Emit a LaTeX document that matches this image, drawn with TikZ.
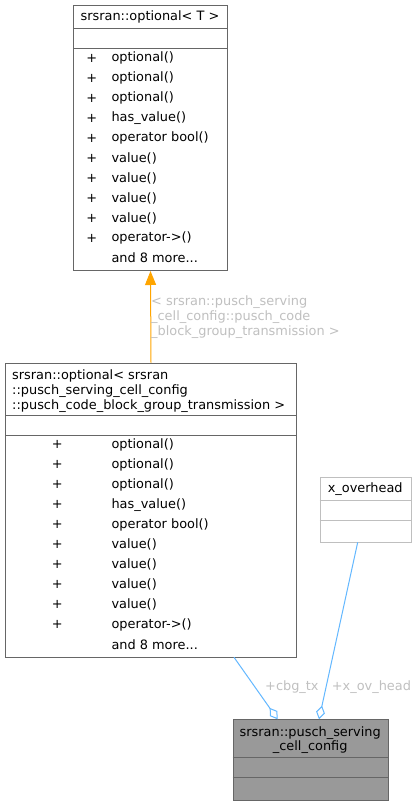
\documentclass[tikz,border=0pt]{standalone}
\usepackage{fontspec}
\setmainfont{DejaVu Sans}
\usetikzlibrary{arrows.meta}
\definecolor{edgeblue}{HTML}{63B8FF}
\definecolor{boxgray}{HTML}{666666}
\definecolor{lblgray}{HTML}{C0C0C0}
\definecolor{lightborder}{HTML}{BFBFBF}
\definecolor{fillgray}{HTML}{999999}
\definecolor{arroworange}{HTML}{FFA500}
\tikzset{
  classbox/.style={draw=boxgray, line width=1pt, fill=white, inner sep=0pt, anchor=north west},
  sepline/.style={draw=boxgray, line width=1pt},
  txt/.style={inner sep=0pt, font=\fontsize{12.9}{15}\selectfont},
  lbl/.style={txt, text=lblgray},
  uses/.style={edgeblue, line width=1pt, {Diamond[length=14pt,width=9pt,fill=white]}-},
  inherit/.style={arroworange, line width=1pt, -{Triangle[length=14pt,width=11pt]}},
}
\begin{document}
\begin{tikzpicture}[x=1pt,y=-1pt]
\useasboundingbox[fill=white] (0,0) rectangle (417,805);

% ---- top box: srsran::optional< T >
\node[classbox, minimum width=154, minimum height=265.3] (optT) at (73,4.7) {};
\draw[sepline] (73,29) -- (227,29);
\draw[sepline] (73,48.7) -- (227,48.7);
\node[txt] (optTtitle) at (150,17) {srsran::optional< T >};
\foreach \n [count=\i from 0] in {optional(),optional(),optional(),has\_value(),operator bool(),value(),value(),value(),value(),operator->()}{
  \node[txt] (optTp\i) at (91.7,58+20*\i) {+};
  \node[txt, anchor=west] (optTm\i) at (111.3,58+20*\i) {\n};
}
\node[txt, anchor=west] (optTmore) at (111.3,258) {and 8 more...};

% ---- middle box
\node[classbox, minimum width=291, minimum height=294.6] (optC) at (5,362.7) {};
\draw[sepline] (5,415.3) -- (296,415.3);
\draw[sepline] (5,435.3) -- (296,435.3);
\node[txt, align=left, anchor=north west] (optCtitle) at (12,369) {srsran::optional< srsran\\::pusch\_serving\_cell\_config\\::pusch\_code\_block\_group\_transmission >};
\foreach \n [count=\i from 0] in {optional(),optional(),optional(),has\_value(),operator bool(),value(),value(),value(),value(),operator->()}{
  \node[txt] (optCp\i) at (57.3,444.7+20*\i) {+};
  \node[txt, anchor=west] (optCm\i) at (111.3,444.7+20*\i) {\n};
}
\node[txt, anchor=west] (optCmore) at (111.3,644.7) {and 8 more...};

% ---- x_overhead box
\node[classbox, draw=lightborder, minimum width=91, minimum height=65] (xov) at (319.7,477.3) {};
\draw[draw=lightborder, line width=1pt] (319.7,500.7) -- (410.7,500.7);
\draw[draw=lightborder, line width=1pt] (319.7,520.7) -- (410.7,520.7);
\node[txt] (xovtitle) at (365.2,489) {x\_overhead};

% ---- bottom box
\node[classbox, fill=fillgray, minimum width=155, minimum height=80.7] (cfg) at (232.7,719.3) {};
\draw[sepline] (232.7,757.3) -- (387.7,757.3);
\draw[sepline] (232.7,777) -- (387.7,777);
\node[txt, align=center, font=\fontsize{12.9}{14.4}\selectfont] (cfgtitle) at (310.2,740) {srsran::pusch\_serving\\\_cell\_config};

% ---- connectors
\draw[inherit] (optC.north) -- (optT.south);
\node[lbl, align=left, anchor=north west] (inhlbl) at (151,295) {< srsran::pusch\_serving\\\_cell\_config::pusch\_code\\\_block\_group\_transmission >};

\coordinate (cbgS) at (234,657.3);
\coordinate (cbgE) at (277.7,719.3);
\draw[uses] (cbgE) -- (cbgS);
\node[lbl, anchor=west] (cbglbl) at (265,687.3) {+cbg\_tx};

\coordinate (xovS) at (357.7,542.3);
\coordinate (xovE) at (319,719.3);
\draw[uses] (xovE) -- (xovS);
\node[lbl, anchor=west] (xovlbl) at (331.7,687.3) {+x\_ov\_head};
\end{tikzpicture}
\end{document}
